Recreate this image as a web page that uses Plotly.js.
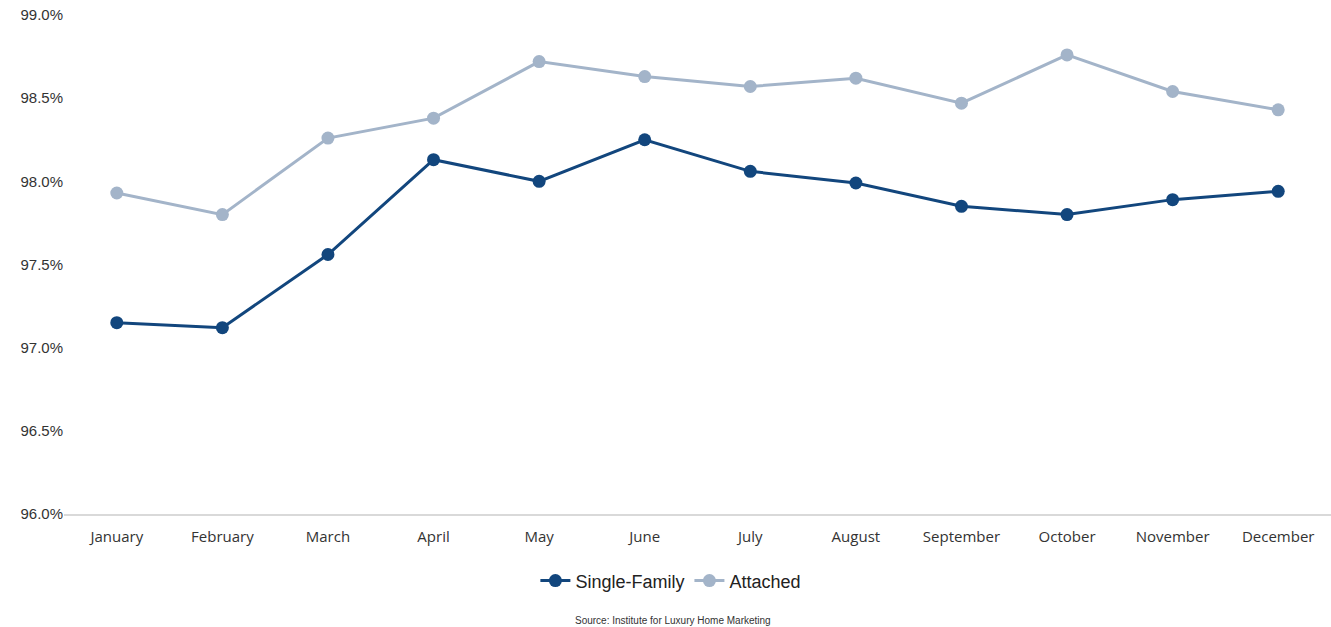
<!DOCTYPE html>
<html><head><meta charset="utf-8">
<script src="https://cdn.plot.ly/plotly-3.0.1.min.js"></script>
<style>html,body{margin:0;padding:0;background:#fff;}#chart{width:1331px;height:627px;}</style>
</head><body><div id="chart"></div>
<script>
const months = ["January","February","March","April","May","June","July","August","September","October","November","December"];
const singleFamily = [97.15,97.12,97.56,98.13,98.00,98.25,98.06,97.99,97.85,97.80,97.89,97.94];
const attached = [97.93,97.80,98.26,98.38,98.72,98.63,98.57,98.62,98.47,98.76,98.54,98.43];
const yTicks = [96.0,96.5,97.0,97.5,98.0,98.5,99.0];

const traces = [
  {x: months, y: singleFamily, name: "Single-Family", type: "scatter", mode: "lines+markers",
   line: {color: "#12467d", width: 3}, marker: {color: "#12467d", size: 13}},
  {x: months, y: attached, name: "Attached", type: "scatter", mode: "lines+markers",
   line: {color: "#a3b4c9", width: 3}, marker: {color: "#a3b4c9", size: 13}}
];
const layout = {
  width: 1331, height: 627,
  margin: {l: 64, r: 0, t: 15, b: 113, autoexpand: false},
  paper_bgcolor: "#fff", plot_bgcolor: "#fff",
  showlegend: true,
  legend: {orientation: "h", x: 0.479, xanchor: "center", y: -0.134, yanchor: "middle",
    font: {family: "Liberation Sans, Arial, sans-serif", size: 18, color: "#222"}},
  xaxis: {type: "category", range: [-0.5, months.length - 0.5], showgrid: false, showline: true,
    linecolor: "#d9d9d9", linewidth: 1.5,
    ticks: "", ticklabelstandoff: 8, automargin: false,
    tickfont: {family: "Open Sans, sans-serif", size: 15, color: "#333"}, zeroline: false},
  yaxis: {range: [96.0, 99.0], tickvals: yTicks, ticktext: yTicks.map(v => v.toFixed(1) + "%"),
    showgrid: false, zeroline: false, showline: false, ticks: "", automargin: false,
    tickfont: {family: "Liberation Sans, Arial, sans-serif", size: 15, color: "#333"}},
  annotations: [{text: "Source: Institute for Luxury Home Marketing", xref: "paper", yref: "paper",
    x: 0.481, y: -0.213, xanchor: "center", yanchor: "middle", showarrow: false,
    font: {family: "Liberation Sans Narrow, Arial Narrow, sans-serif", size: 10, color: "#333"}}]
};
Plotly.newPlot("chart", traces, layout, {displayModeBar: false});
</script></body></html>
